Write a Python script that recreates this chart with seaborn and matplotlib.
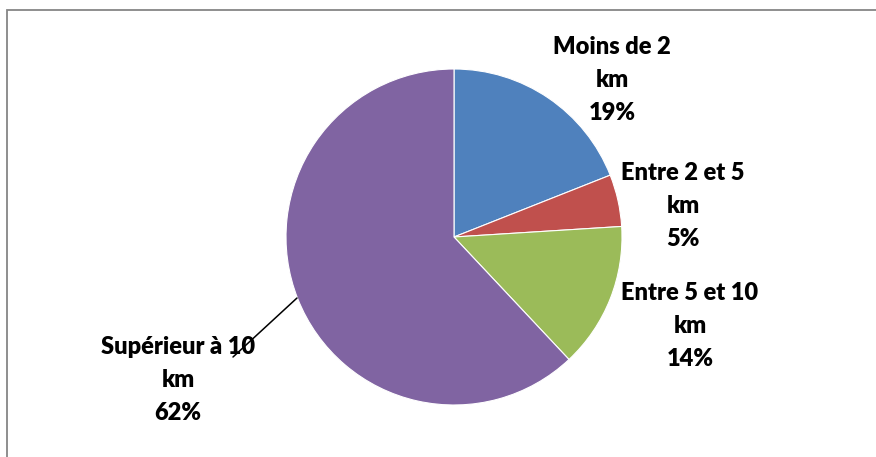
import matplotlib
matplotlib.use("Agg")
import matplotlib.pyplot as plt
from matplotlib.patches import Rectangle
import seaborn as sns

# Données
categories = ["Moins de 2\nkm", "Entre 2 et 5\nkm", "Entre 5 et 10\nkm", "Supérieur à 10\nkm"]
parts = [19, 5, 14, 62]
couleurs = ["#4F81BD", "#C0504D", "#9BBB59", "#8064A2"]

# positions des étiquettes (pixels, origine en bas à gauche)
label_pos = [(612, 377), (683, 251), (690, 131), (178, 77)]

sns.set_theme(style="white")
plt.rcParams['font.family'] = ['Lato', 'DejaVu Sans']

W, H = 876, 457
fig = plt.figure(figsize=(W / 100, H / 100), dpi=100)
ax = fig.add_axes([0, 0, 1, 1])
ax.axis("off")

ax.pie(parts, colors=sns.color_palette(couleurs), startangle=90, counterclock=False,
       center=(454, H - 237), radius=168,
       wedgeprops=dict(linewidth=0.8, edgecolor="white"))
ax.set_xlim(0, W)
ax.set_ylim(0, H)
ax.set_aspect("equal")

# étiquettes
for cat, p, (x, y) in zip(categories, parts, label_pos):
    ax.text(x, y, f"{cat}\n{p}%", ha="center", va="center", fontsize=17,
            fontweight="heavy", linespacing=1.62, color="black")

# ligne de rappel
ax.plot([297, 233], [H - 298, H - 357], color="black", lw=1.1)

# cadre
fig.patches.append(Rectangle((7 / W, -0.05), 1.1, 1.05 - 10 / H, transform=fig.transFigure,
                             fill=False, edgecolor="#868686", lw=1.3))

fig.savefig("out.png", dpi=100)
